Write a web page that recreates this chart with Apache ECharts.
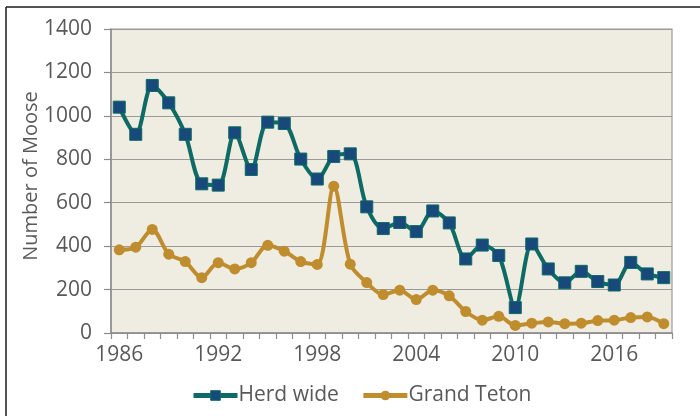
<!DOCTYPE html>
<html>
<head>
<meta charset="utf-8">
<script src="https://cdn.jsdelivr.net/npm/echarts@6/dist/echarts.min.js"></script>
<style>
html,body{margin:0;padding:0;background:#fff;}
#chart{width:700px;height:416px;}
</style>
</head>
<body>
<div id="chart"></div>
<script>
const years = [];
for (let y = 1986; y <= 2019; y++) years.push(String(y));

const herdWide = [1040, 915, 1140, 1060, 915, 687, 681, 922, 753, 971, 965,
  801, 709, 813, 825, 581, 481, 509, 467, 562, 507, 341, 405, 357, 117,
  410, 295, 231, 284, 237, 221, 325, 272, 255];

const grandTeton = [383, 395, 477, 363, 329, 255, 324, 295, 324, 404, 377,
  329, 316, 676, 317, 232, 177, 197, 154, 197, 171, 99, 59, 77, 35,
  45, 51, 43, 45, 57, 59, 71, 74, 43];

const yTicks = [0, 200, 400, 600, 800, 1000, 1200, 1400];

const textColor = '#595959';
const font = 'Open Sans';

const chart = echarts.init(document.getElementById('chart'), null, {renderer: 'canvas'});
chart.setOption({
  animation: false,
  backgroundColor: '#ffffff',
  textStyle: {fontFamily: font},
  grid: {left: 111, right: 28, top: 29, bottom: 83, show: true,
    backgroundColor: '#efece1', borderColor: '#9a9a9a', borderWidth: 1.2},
  legend: {
    left: 186, top: 380,
    itemWidth: 44, itemHeight: 12, itemGap: 22,
    textStyle: {color: textColor, fontSize: 21, fontFamily: font, padding: [0, 0, 0, -4]},
    data: [
      {name: 'Herd wide', itemStyle: {color: '#17497b', borderColor: '#0e6a64', borderWidth: 1}, lineStyle: {color: '#0e6a64', width: 5}},
      {name: 'Grand Teton', itemStyle: {color: '#bf8d2e', borderWidth: 0}, lineStyle: {color: '#bf8d2e', width: 5}}
    ]
  },
  xAxis: {
    type: 'category',
    data: years,
    boundaryGap: true,
    axisLine: {lineStyle: {color: '#8c8c8c', width: 1.5}},
    axisTick: {show: true, interval: 0, length: 6, lineStyle: {color: '#8c8c8c', width: 1.2}},
    axisLabel: {interval: 5, color: textColor, fontSize: 21, margin: 12, fontFamily: font},
    splitLine: {show: false}
  },
  yAxis: {
    type: 'value',
    min: yTicks[0], max: yTicks[yTicks.length - 1], interval: 200,
    name: 'Number of Moose',
    nameLocation: 'middle',
    nameGap: 70,
    nameMoveOverlap: false,
    nameTextStyle: {color: textColor, fontSize: 20, fontFamily: font, padding: [0, 0, 0, 10]},
    axisLine: {show: true, lineStyle: {color: '#8c8c8c', width: 1.5}},
    axisTick: {show: true, length: 7, lineStyle: {color: '#8c8c8c', width: 1.2}},
    axisLabel: {color: textColor, fontSize: 21, margin: 19, fontFamily: font,
      formatter: function (v) { return String(v); }},
    splitLine: {show: true, lineStyle: {color: '#9a9a9a', width: 1.2}}
  },
  series: [
    {
      name: 'Herd wide',
      type: 'line',
      data: herdWide,
      smooth: 0.3,
      showAllSymbol: true,
      symbol: 'rect',
      symbolSize: 12,
      lineStyle: {color: '#0e6a64', width: 4},
      itemStyle: {color: '#17497b', borderColor: '#0e6a64', borderWidth: 1}
    },
    {
      name: 'Grand Teton',
      type: 'line',
      data: grandTeton,
      smooth: 0.3,
      showAllSymbol: true,
      symbol: 'circle',
      symbolSize: 11,
      lineStyle: {color: '#bf8d2e', width: 4},
      itemStyle: {color: '#bf8d2e', borderWidth: 0}
    }
  ],
  graphic: [
    {type: 'line', shape: {x1: 6, y1: 7, x2: 700, y2: 7}, style: {stroke: '#1a1a1a', lineWidth: 1.5}, silent: true},
    {type: 'line', shape: {x1: 6, y1: 7, x2: 6, y2: 416}, style: {stroke: '#1a1a1a', lineWidth: 1.5}, silent: true}
  ]
});
</script>
</body>
</html>
